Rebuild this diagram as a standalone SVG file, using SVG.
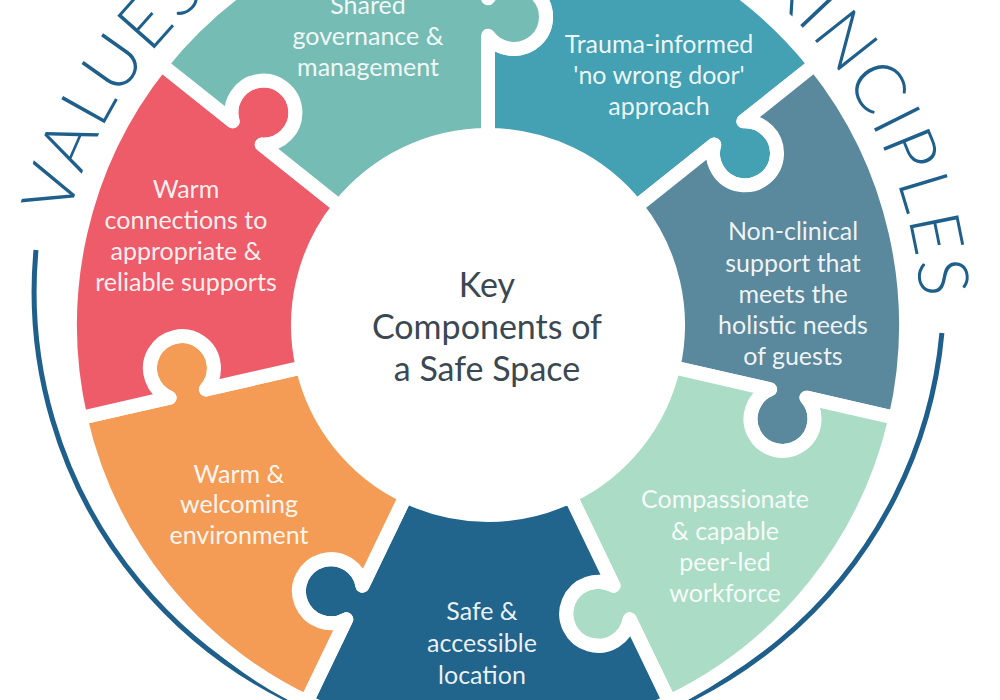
<svg xmlns="http://www.w3.org/2000/svg" width="1000" height="700" viewBox="0 0 1000 700">
<style>
.piece{stroke:#ffffff;stroke-width:14;stroke-linejoin:round}
.lbl{font-family:Lato,"Liberation Sans",sans-serif;font-size:25px;fill:#ffffff;fill-opacity:0.92;text-anchor:middle}
.ctr{font-family:Lato,"Liberation Sans",sans-serif;font-size:34px;fill:#3a4853;text-anchor:middle}
.title{font-family:Lato,"Liberation Sans",sans-serif;font-weight:300;font-size:70px;fill:#1f5f8b;letter-spacing:3px}
</style>
<defs>
<path id="titlePath" d="M 55 325 A 433 433 0 0 1 921 325"/>
</defs>
<rect width="1000" height="700" fill="#ffffff"/>
<g id="frame">
<path d="M 941.9 332.9 A 454 454 0 1 1 36 250.1" fill="none" stroke="#1f5f8b" stroke-width="5"/>
<text class="title"><textPath href="#titlePath" startOffset="108">VALUES</textPath></text>
<text class="title" text-anchor="end"><textPath href="#titlePath" startOffset="1336" text-anchor="end">PRINCIPLES</textPath></text>
</g>
<g id="connectors"></g>
<g id="trauma-informed">
<path class="piece" fill="#43a1b3" d="M 488 -93 A 418 418 0 0 1 814.81 64.38 L 743.39 121.34 A 32 32 0 1 1 714.22 144.59 L 636.55 206.54 A 190 190 0 0 0 488 135 L 488 35.65 A 32 32 0 1 0 488 -1.65 Z"/>
<text class="lbl"><tspan x="659" y="53">Trauma-informed</tspan><tspan x="659" y="84">'no wrong door'</tspan><tspan x="659" y="115">approach</tspan></text>
</g>
<g id="non-clinical">
<path class="piece" fill="#5a889c" d="M 814.81 64.38 A 418 418 0 0 1 895.52 418.01 L 806.46 397.69 A 32 32 0 1 1 770.10 389.39 L 673.24 367.28 A 190 190 0 0 0 636.55 206.54 L 714.22 144.59 A 32 32 0 1 0 743.39 121.34 Z"/>
<text class="lbl"><tspan x="793" y="240">Non-clinical</tspan><tspan x="793" y="272">support that</tspan><tspan x="793" y="303">meets the</tspan><tspan x="793" y="334">holistic needs</tspan><tspan x="793" y="365">of guests</tspan></text>
</g>
<g id="compassionate">
<path class="piece" fill="#aadcc6" d="M 895.52 418.01 A 418 418 0 0 1 669.36 701.61 L 629.73 619.30 A 32 32 0 1 1 613.54 585.70 L 570.44 496.18 A 190 190 0 0 0 673.24 367.28 L 770.10 389.39 A 32 32 0 1 0 806.46 397.69 Z"/>
<text class="lbl"><tspan x="725" y="508">Compassionate</tspan><tspan x="725" y="540">&amp; capable</tspan><tspan x="725" y="571">peer-led</tspan><tspan x="725" y="602">workforce</tspan></text>
</g>
<g id="safe-accessible">
<path class="piece" fill="#21648c" d="M 669.36 701.61 A 418 418 0 0 1 306.64 701.61 L 346.27 619.30 A 32 32 0 1 1 362.46 585.70 L 405.56 496.18 A 190 190 0 0 0 570.44 496.18 L 613.54 585.70 A 32 32 0 1 0 629.73 619.30 Z"/>
<text class="lbl"><tspan x="482" y="620">Safe &amp;</tspan><tspan x="482" y="652">accessible</tspan><tspan x="482" y="684">location</tspan></text>
</g>
<g id="warm-welcoming">
<path class="piece" fill="#f49c55" d="M 306.64 701.61 A 418 418 0 0 1 80.48 418.01 L 169.54 397.69 A 32 32 0 1 1 205.90 389.39 L 302.76 367.28 A 190 190 0 0 0 405.56 496.18 L 362.46 585.70 A 32 32 0 1 0 346.27 619.30 Z"/>
<text class="lbl"><tspan x="239" y="483">Warm &amp;</tspan><tspan x="239" y="513">welcoming</tspan><tspan x="239" y="544">environment</tspan></text>
</g>
<g id="warm-connections">
<path class="piece" fill="#ed5c68" d="M 80.48 418.01 A 418 418 0 0 1 161.19 64.38 L 232.61 121.34 A 32 32 0 1 1 261.78 144.59 L 339.45 206.54 A 190 190 0 0 0 302.76 367.28 L 205.90 389.39 A 32 32 0 1 0 169.54 397.69 Z"/>
<text class="lbl"><tspan x="186" y="198">Warm</tspan><tspan x="186" y="229">connections to</tspan><tspan x="186" y="260">appropriate &amp;</tspan><tspan x="186" y="291">reliable supports</tspan></text>
</g>
<g id="shared-governance">
<path class="piece" fill="#75bdb4" d="M 161.19 64.38 A 418 418 0 0 1 488 -93 L 488 -1.65 A 32 32 0 1 1 488 35.65 L 488 135 A 190 190 0 0 0 339.45 206.54 L 261.78 144.59 A 32 32 0 1 0 232.61 121.34 Z"/>
<text class="lbl"><tspan x="368" y="14">Shared</tspan><tspan x="368" y="45">governance &amp;</tspan><tspan x="368" y="76">management</tspan></text>
</g>
<g id="center">
<text class="ctr"><tspan x="487" y="297">Key</tspan><tspan x="487" y="339">Components of</tspan><tspan x="487" y="381">a Safe Space</tspan></text>
</g>
</svg>
